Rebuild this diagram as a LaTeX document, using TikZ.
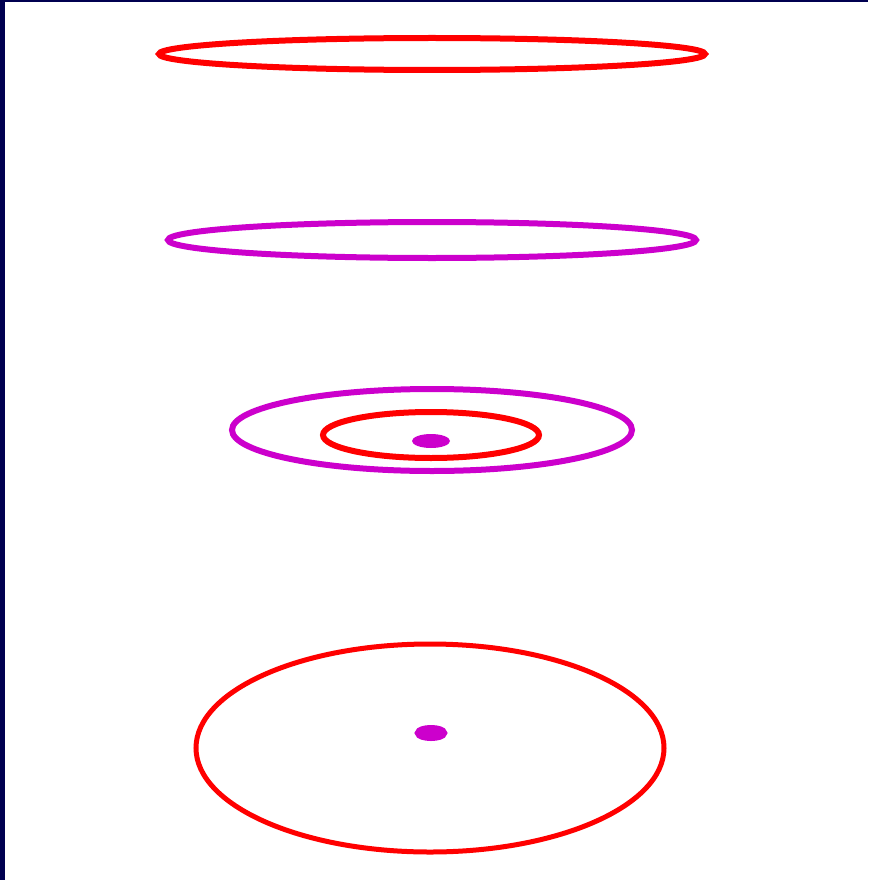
\documentclass[tikz,border=0pt]{standalone}
\definecolor{navy}{HTML}{000050}
\definecolor{mag}{HTML}{CC00CC}
\definecolor{rd}{HTML}{FF0000}
\begin{document}
\begin{tikzpicture}[x=1pt,y=-1pt,
  ringr/.style={draw=rd,line width=6pt},
  ringm/.style={draw=mag,line width=6pt}]
\useasboundingbox (0,0) rectangle (868,880);
\fill[white] (0,0) rectangle (868,880);
\fill[navy] (0,0) rectangle (5,880);
\fill[navy] (0,0) rectangle (868,2);
\draw[ringr] (432,54) ellipse [x radius=273, y radius=16];
\draw[ringm] (432,240) ellipse [x radius=264, y radius=18];
\draw[ringm] (432,430) ellipse [x radius=200, y radius=41];
\draw[ringr] (431,435) ellipse [x radius=108, y radius=23];
\fill[mag] (431,441) ellipse [x radius=19, y radius=7];
\draw[ringr,line width=5pt] (430,748) ellipse [x radius=234, y radius=104];
\draw[mag,line width=8pt] (431,733) ellipse [x radius=12, y radius=4];
\end{tikzpicture}
\end{document}
